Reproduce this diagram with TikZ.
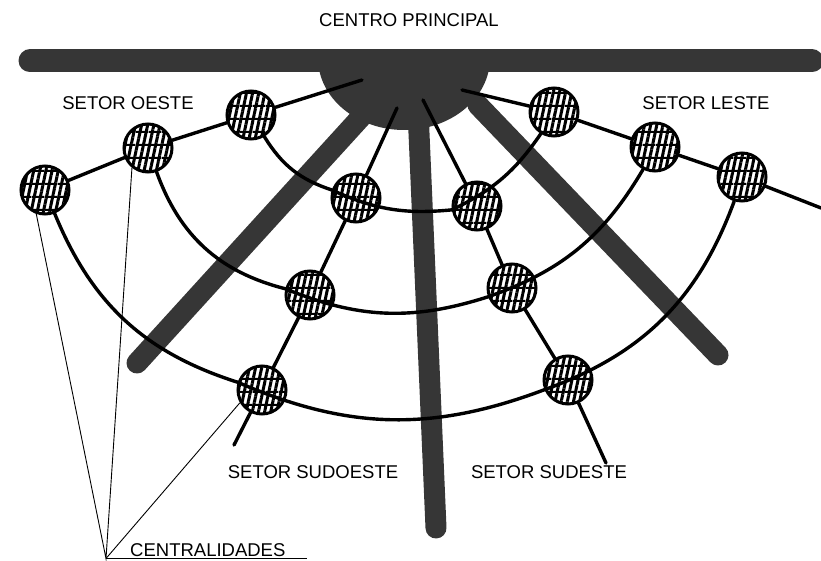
\documentclass[tikz,border=0pt]{standalone}
\usepackage{fontspec}
\setmainfont{Liberation Sans}
\usetikzlibrary{patterns.meta}

\definecolor{eixocor}{HTML}{363636}
\tikzset{
  centralidade/.style={circle,draw,line width=3pt,minimum size=48pt,inner sep=0pt,
    pattern={Lines[angle=78,distance=6pt,line width=3pt]},
    postaction={pattern={Lines[angle=0,distance=13pt,line width=2pt]}}},
  via/.style={line width=3.4pt,line cap=round},
  eixo/.style={line width=21pt,line cap=round,draw=eixocor},
  rotulo/.style={font=\fontsize{18.5}{20}\selectfont},
}

\begin{document}
\begin{tikzpicture}[x=1pt,y=1pt]
  \useasboundingbox (0,0) rectangle (821,560);

  % centro principal
  \draw[eixo,line width=23pt] (30,499) -- (812,499);
  \fill[eixocor] (318,502) arc[start angle=180,end angle=360,x radius=86,y radius=72] -- cycle;
  \foreach \xa/\ya/\xb/\yb in {372/455/137/197, 418/450/436/32, 478/455/718/205}
    \draw[eixo] (\xa,\ya) -- (\xb,\yb);

  % centralidades
  \node[centralidade] (w1) at (251,445) {};
  \node[centralidade] (w2) at (148,412) {};
  \node[centralidade] (w3) at (45,370) {};
  \node[centralidade] (e1) at (554,448) {};
  \node[centralidade] (e2) at (655,413) {};
  \node[centralidade] (e3) at (742,383) {};
  \node[centralidade] (sw1) at (356,362) {};
  \node[centralidade] (sw2) at (310,265) {};
  \node[centralidade] (sw3) at (262,170) {};
  \node[centralidade] (se1) at (477,354) {};
  \node[centralidade] (se2) at (512,272) {};
  \node[centralidade] (se3) at (568,180) {};

  % pontas soltas das vias
  \coordinate (oeste) at (362,480);
  \coordinate (leste) at (462,470);
  \coordinate (lestefim) at (821,352);
  \coordinate (swini) at (397,452);
  \coordinate (swfim) at (234,115);
  \coordinate (seini) at (423,460);
  \coordinate (sefim) at (606,97);

  % vias radiais
  \draw[via] (oeste) -- (w1) -- (w2) -- (w3);
  \draw[via] (leste) -- (e1) -- (e2) -- (e3) -- (lestefim);
  \draw[via] (swini) -- (sw1) -- (sw2) -- (sw3) -- (swfim);
  \draw[via] (seini) -- (se1) -- (se2) -- (se3) -- (sefim);

  % aneis
  \draw[via] (w1) to[bend right=20] (sw1) to[bend right=15] (se1) to[bend right=15] (e1);
  \draw[via] (w2) to[bend right=28] (sw2) to[bend right=20] (se2) to[bend right=20] (e2);
  \draw[via] (w3) to[bend right=25] (sw3) to[bend right=22] (se3) to[bend right=25] (e3);

  % textos
  \node[rotulo] (centro) at (409,540) {CENTRO PRINCIPAL};
  \node[rotulo] (soeste) at (128,457) {SETOR OESTE};
  \node[rotulo] (sleste) at (706,457) {SETOR LESTE};
  \node[rotulo] (ssudoeste) at (313,88) {SETOR SUDOESTE};
  \node[rotulo] (ssudeste) at (549,88) {SETOR SUDESTE};
  \node[rotulo,anchor=base west,inner sep=0pt] (cent) at (130,3.5) {CENTRALIDADES};

  % chamada
  \coordinate (ptr) at (106,1.5);
  \coordinate (sublinha) at (307,1.5);
  \draw[line width=.9pt] (ptr) -- (sublinha);
  \draw[line width=.9pt] (w3.250) -- (ptr) -- (w2.231);
  \draw[line width=.9pt] (ptr) -- (sw3.210);
\end{tikzpicture}
\end{document}
